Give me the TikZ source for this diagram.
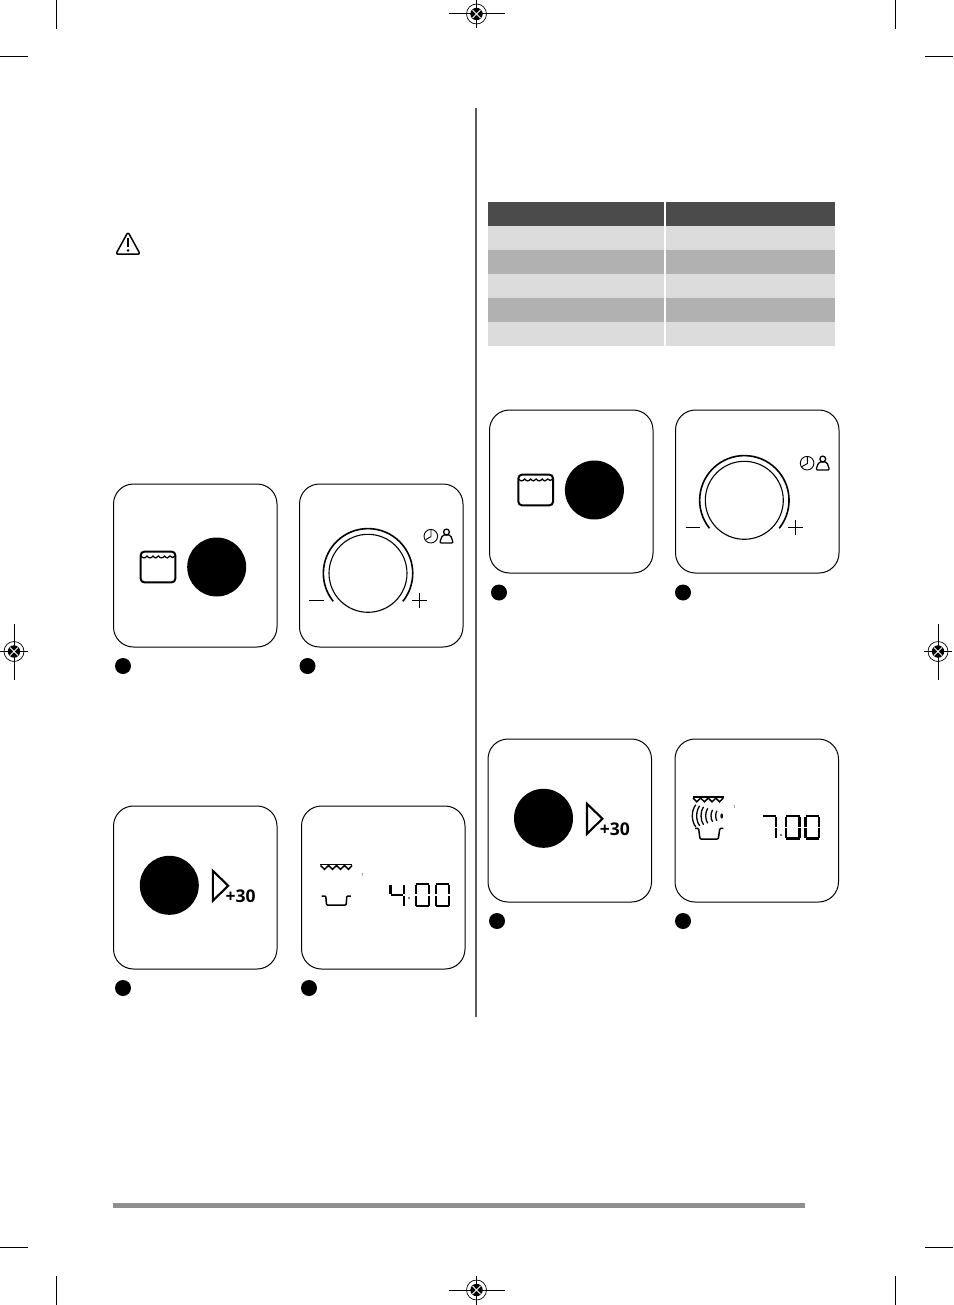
\documentclass[tikz,border=0pt]{standalone}
\usepackage{fontspec}
\newfontfamily\panelfont{Open Sans}
\usetikzlibrary{calc}
\definecolor{tabdark}{HTML}{4B4B4B}
\definecolor{tablight}{HTML}{DCDCDC}
\definecolor{tabmid}{HTML}{B1B1B1}
\definecolor{rulegray}{HTML}{5A5A5A}
\definecolor{bargray}{HTML}{8F8F8F}
\tikzset{
  panelbox/.style={draw=black,line width=1pt,rounded corners=20pt,fill=white},
  cropline/.style={draw=black,line width=1pt},
  seg/.style={draw=black,line width=2.3pt},
  icon/.style={draw=black,line width=1.4pt},
  thinicon/.style={draw=black,line width=0.9pt},
  wave/.style={draw=black,line width=1.3pt}
}
% seven segment digit, w=15.5 h=24.5
\newcommand{\sgA}{\draw[seg] (1,1.2)--(14.5,1.2);}
\newcommand{\sgB}{\draw[seg] (14.5,2.2)--(14.5,11.6);}
\newcommand{\sgC}{\draw[seg] (14.5,13.2)--(14.5,23);}
\newcommand{\sgD}{\draw[seg] (1,23.4)--(14.5,23.4);}
\newcommand{\sgE}{\draw[seg] (1.1,13.2)--(1.1,23);}
\newcommand{\sgF}{\draw[seg] (1.1,2.2)--(1.1,11.6);}
\newcommand{\sgG}{\draw[seg] (1.5,12.3)--(14,12.3);}
\newcommand{\zerodigit}[2]{\begin{scope}[shift={(#1,#2)}]\sgA\sgB\sgC\sgD\sgE\sgF\end{scope}}
\newcommand{\fourdigit}[2]{\begin{scope}[shift={(#1,#2)}]\sgB\sgC\sgF\sgG\end{scope}}
\newcommand{\sevendigit}[2]{\begin{scope}[shift={(#1,#2)}]\sgA\sgB\sgC\end{scope}}
% registration mark: x, y, half width, half height
\newcommand{\regmark}[4]{\begin{scope}[shift={(#1,#2)}]
  \draw[cropline] (-#3,0)--(#3,0) (0,-#4)--(0,#4);
  \draw[draw=black,line width=0.7pt] (0,0) circle (10);
  \fill[black] (0,0) circle (6.2);
  \draw[white,line width=1pt] (-4,-4)--(4,4) (-4,4)--(4,-4);
\end{scope}}
\newcommand{\panel}[2]{
  \draw[panelbox] (#1,#2) rectangle ++(163.5,163);
}
\newcommand{\ovenicon}[2]{\begin{scope}[shift={(#1,#2)}]
  \draw[draw=black,line width=2pt,rounded corners=3.5pt] (140.7,551.7) rectangle (175.3,582.3);
  \draw[draw=black,line width=1.3pt] (141,556) .. controls (143,558.5) and (145,558.5) .. (147,556)
     .. controls (149,558.5) and (151,558.5) .. (153,556)
     .. controls (155,558.5) and (157,558.5) .. (158.5,556)
     .. controls (160.5,558.5) and (162.5,558.5) .. (164.5,556)
     .. controls (166.5,558.5) and (168.5,558.5) .. (170,556)
     .. controls (171.5,558) and (173.5,558) .. (175,556);
  \fill[black] (216.7,567) circle (29.5);
\end{scope}}
\newcommand{\knobicon}[2]{\begin{scope}[shift={(#1,#2)}]
  \draw[draw=black,line width=1.1pt] (368,573.3) circle (39);
  \draw[draw=black,line width=1.6pt] (333.2,601.3) arc[start angle=218.8,end angle=-38.8,radius=44.7,y radius=-44.7];
  \draw[icon] (309.3,600.2)--(324,600.2);
  \draw[icon] (411.8,600.7)--(426.8,600.7) (419.3,593.2)--(419.3,608.2);
\end{scope}
\begin{scope}[shift={(#1,#2-1)}]
  \draw[thinicon] (430.8,537.2) circle (6.8);
  \draw[thinicon] (431,530.4)--(431,537.6)--(425.6,540.6);
  \draw[draw=black,line width=1.3pt,line join=round] (441.2,544)--(451.6,544) .. controls (452.8,544) and (453,543) .. (452.6,541.8)
     -- (451,537.6) .. controls (450.6,536.4) and (450,536) .. (449,536) -- (444,536) .. controls (443,536) and (442.4,536.4) .. (442,537.6) -- (440.3,541.8) .. controls (439.9,543) and (440,544) .. (441.2,544) -- cycle;
  \draw[draw=black,line width=1.3pt] (446.5,533) circle (2.9);
\end{scope}}
\newcommand{\starticon}[3]{\begin{scope}[shift={(#1,#2)}]
  \fill[black] (169.3,885.3) circle (29.5);
  \draw[draw=black,line width=2.1pt,line join=miter] (212.8,870.8)--(228.2,885.7)--(212.8,900.8)--cycle;
  \node[inner sep=0pt,anchor=base] (#3) at (240.7,902) {\panelfont\fontsize{17.5pt}{17.5pt}\selectfont\bfseries +30};
\end{scope}}
\newcommand{\zigzag}[2]{\begin{scope}[shift={(#1,#2)}]
  \draw[draw=black,line width=1.5pt] (320,864.6)--(352.3,864.6);
  \draw[draw=black,line width=1.5pt,line join=miter] (320.5,865.5)--(324.5,869.3)--(328.5,865.5)--(332.5,869.3)--(336.5,865.5)--(340.5,869.3)--(344.5,865.5)--(348.5,869.3)--(352,865.5);
\end{scope}}
\begin{document}
\begin{tikzpicture}[x=1pt,y=-1pt]
\useasboundingbox (0,0) rectangle (953,1305);
% crop marks
\draw[cropline] (56.6,0)--(56.6,29) (0,57)--(28,57);
\draw[cropline] (895.6,0)--(895.6,29) (925,57)--(953,57);
\draw[cropline] (56.6,1276)--(56.6,1305) (0,1247)--(28,1247);
\draw[cropline] (895.6,1276)--(895.6,1305) (925,1247)--(953,1247);
\regmark{476.5}{14}{28}{14.5}
\regmark{476.5}{1290}{28}{14.5}
\regmark{14}{651.5}{14}{28}
\regmark{938}{651.5}{14}{28}
% column rule and footer bar
\draw[draw=rulegray,line width=2pt] (476,108)--(476,1017);
\fill[bargray] (113,1203) rectangle (805,1208);
% warning sign
\draw[draw=black,line width=1.5pt,line join=round,rounded corners=2.2pt] (128,232)--(140.2,254.2)--(115.8,254.2)--cycle;
\draw[draw=black,line width=2.4pt] (128,238.5)--(128,247);
\fill[black] (128,250.4) circle (1.4);
% table
\fill[tabdark] (488,202) rectangle (664,226);
\fill[tabdark] (666,202) rectangle (835,226);
\fill[tablight] (488,226) rectangle (664,250);
\fill[tablight] (666,226) rectangle (835,250);
\fill[tabmid] (488,250) rectangle (664,274);
\fill[tabmid] (666,250) rectangle (835,274);
\fill[tablight] (488,274) rectangle (664,298);
\fill[tablight] (666,274) rectangle (835,298);
\fill[tabmid] (488,298) rectangle (664,322);
\fill[tabmid] (666,298) rectangle (835,322);
\fill[tablight] (488,322) rectangle (664,346);
\fill[tablight] (666,322) rectangle (835,346);
% left column panels
\panel{113.5}{484}
\panel{299.5}{484}
\panel{113.5}{806}
\panel{301.5}{806}
\ovenicon{0}{0}
\knobicon{0}{0}
\starticon{0}{0}{plusa}
\zigzag{0}{0}
\draw[draw=black,line width=1.5pt,line join=round,rounded corners=1pt] (321.7,896)--(325.8,896)--(326.5,905)--(346.2,905)--(346.8,896)--(350.8,896);
\node[inner sep=0pt,font=\fontsize{4pt}{4pt}\selectfont\panelfont] (ticka) at (362.7,875.3) {1};
\fourdigit{389.3}{882.5}
\fill[black] (409,898) circle (0.8);
\zerodigit{414.8}{882.5}
\zerodigit{434.6}{882.5}
\fill[black] (123,666) circle (8);
\fill[black] (307.5,666) circle (8);
\fill[black] (123,988) circle (8);
\fill[black] (309,988) circle (8);
% right column panels
\panel{489.5}{410}
\panel{675.5}{410}
\panel{488}{739}
\panel{675}{739}
\ovenicon{377.7}{-77}
\knobicon{376.3}{-73}
\starticon{374.2}{-67}{plusb}
\begin{scope}[shift={(372.5,-67.5)}]
  \draw[draw=black,line width=1.5pt] (320,864.6)--(351,864.6);
  \draw[draw=black,line width=1.5pt,line join=miter] (320.5,865.5)--(324.3,869.3)--(328.1,865.5)--(331.9,869.3)--(335.7,865.5)--(339.5,869.3)--(343.3,865.5)--(347.1,869.3)--(350.7,865.5);
\end{scope}
\foreach \xx/\hh/\bb in {692.3/11/3.5,696.7/10/3,701/9/2.5,705.7/7.5/2,711/6/1.6,715.7/5/1.2}{
  \draw[wave] (\xx+\bb,815.8-\hh) .. controls (\xx-\bb/3,815.8-\hh/2) and (\xx-\bb/3,815.8+\hh/2) .. (\xx+\bb,815.8+\hh);
}
\fill[black] (721.7,816) ellipse (1.3 and 2.6);
\draw[draw=black,line width=1.5pt,line join=round,rounded corners=1pt] (695,828.4)--(698.6,828.4)--(700,839)--(718.3,839)--(719.8,828.4)--(723.3,828.4);
\node[inner sep=0pt,font=\fontsize{4pt}{4pt}\selectfont\panelfont] (tickb) at (734.5,807) {1};
\sevendigit{761.5}{815}
\fill[black] (781,835) circle (0.8);
\zerodigit{785}{815}
\zerodigit{804.5}{815}
\fill[black] (499,592.5) circle (8);
\fill[black] (683,592.5) circle (8);
\fill[black] (497,921) circle (8);
\fill[black] (683,921) circle (8);
\end{tikzpicture}
\end{document}
